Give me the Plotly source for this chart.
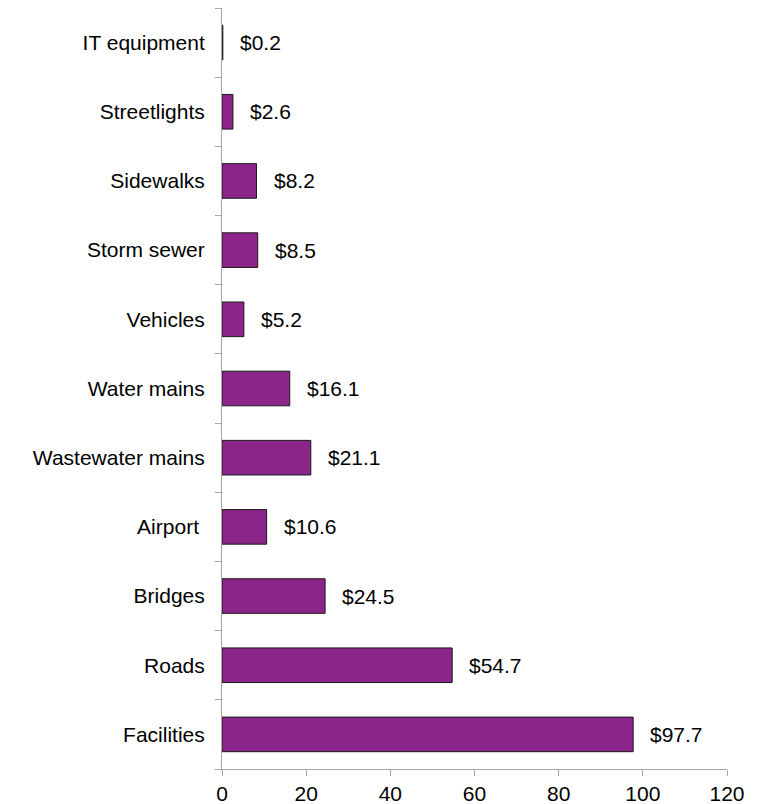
import plotly.graph_objects as go

categories = ["Facilities", "Roads", "Bridges", "Airport ", "Wastewater mains",
              "Water mains", "Vehicles", "Storm sewer", "Sidewalks",
              "Streetlights", "IT equipment"]
values = [97.7, 54.7, 24.5, 10.6, 21.1, 16.1, 5.2, 8.5, 8.2, 2.6, 0.2]
labels = ["$" + f"{v:.1f}" for v in values]
x_ticks = [0, 20, 40, 60, 80, 100, 120]

font = "Liberation Sans, Arial, sans-serif"
fsize = 21

fig = go.Figure()
fig.add_trace(go.Bar(
    y=categories, x=values, orientation="h",
    marker=dict(color="#8B258A", line=dict(color="#1a1a1a", width=1)),
    width=0.5, showlegend=False, hoverinfo="skip",
))

for c, v, t in zip(categories, values, labels):
    fig.add_annotation(x=v, y=c, text=t, showarrow=False, xanchor="left",
                       xshift=15, font=dict(family=font, size=fsize, color="#000000"))

fig.update_layout(
    width=760, height=804,
    margin=dict(l=222, r=33, t=8, b=35),
    paper_bgcolor="white", plot_bgcolor="white",
    font=dict(family=font, size=fsize, color="#000000"),
)
fig.update_xaxes(
    range=[0, 120], tickvals=x_ticks, showgrid=False, zeroline=False,
    showline=True, linecolor="#A6A6A6", linewidth=1,
    ticks="outside", ticklen=6, tickcolor="#A6A6A6", automargin=False,
    tickfont=dict(family=font, size=fsize, color="#000000"),
)
fig.update_yaxes(
    categoryorder="array", categoryarray=categories,
    showgrid=False, zeroline=False, automargin=False,
    showline=True, linecolor="#A6A6A6", linewidth=1,
    ticks="outside", ticklen=6, tickcolor="#A6A6A6", tickson="boundaries",
    ticklabelstandoff=12,
    tickfont=dict(family=font, size=fsize, color="#000000"),
)

fig.write_html("out.html")
